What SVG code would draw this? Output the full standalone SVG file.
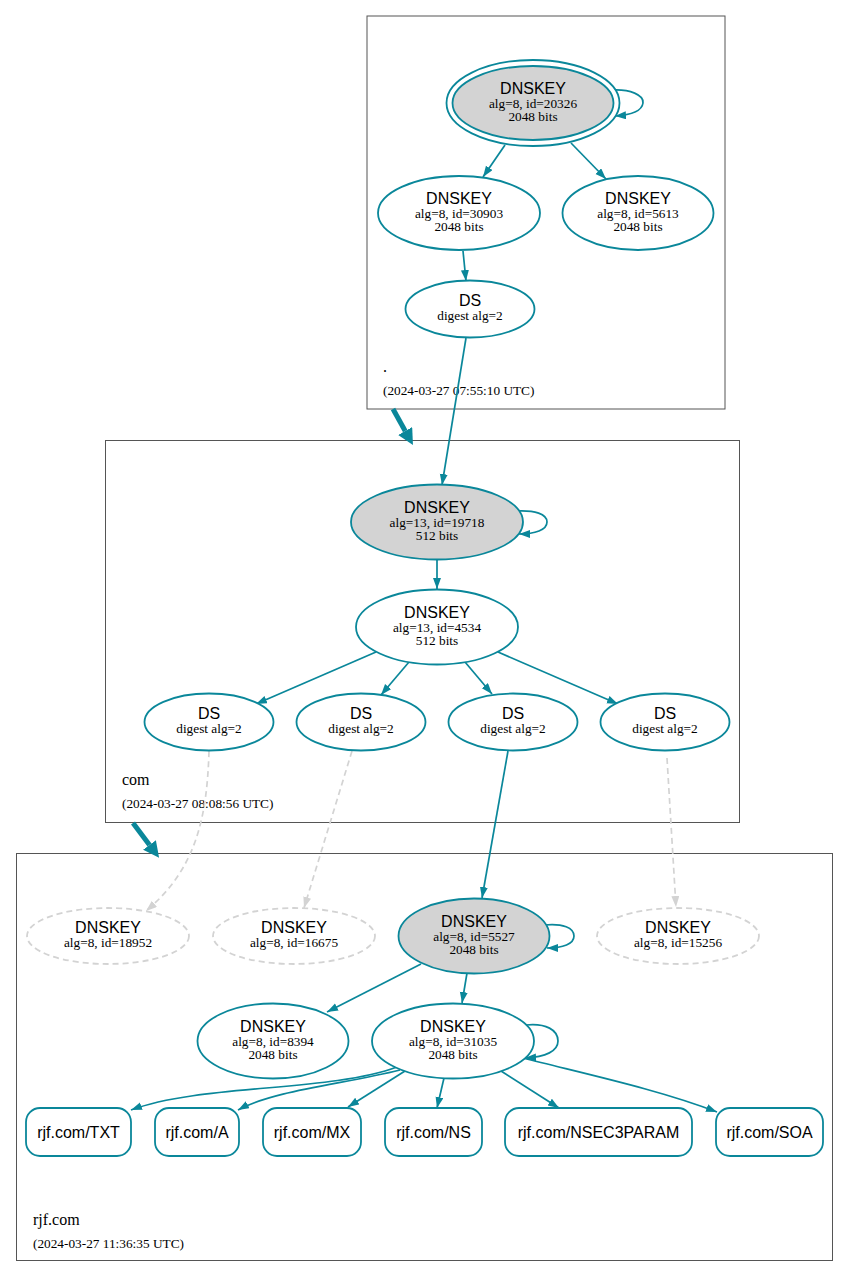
<svg xmlns="http://www.w3.org/2000/svg" width="849" height="1278" viewBox="0 0 849 1278">
<defs>
<style>
.cluster{fill:none;stroke:#555;stroke-width:1}
.key{fill:#fff;stroke:#0a879a;stroke-width:1.8}
.ksk{fill:#d3d3d3;stroke:#0a879a;stroke-width:1.8}
.miss{fill:#fff;stroke:#d3d3d3;stroke-width:1.8;stroke-dasharray:6,4}
.e{fill:none;stroke:#0a879a;stroke-width:1.7;marker-end:url(#ah)}
.ed{fill:none;stroke:#d3d3d3;stroke-width:1.7;stroke-dasharray:6,4;marker-end:url(#ahg)}
.thick{fill:none;stroke:#0a879a;stroke-width:5;marker-end:url(#aht)}
.s{font-family:"Liberation Sans",Arial,sans-serif;font-size:16px;text-anchor:middle;fill:#000}
.r{font-family:"Liberation Serif","Times New Roman",serif;font-size:13.3px;text-anchor:middle;fill:#000}
.cl{font-family:"Liberation Serif","Times New Roman",serif;font-size:16px;fill:#000}
.ct{font-family:"Liberation Serif","Times New Roman",serif;font-size:13.3px;fill:#000}
</style>
<marker id="ah" markerUnits="userSpaceOnUse" markerWidth="12" markerHeight="9" refX="11" refY="4" orient="auto"><path d="M0,0 L11,4 L0,8 z" fill="#0a879a"/></marker>
<marker id="ahg" markerUnits="userSpaceOnUse" markerWidth="12" markerHeight="9" refX="11" refY="4" orient="auto"><path d="M0,0 L11,4 L0,8 z" fill="#d3d3d3"/></marker>
<marker id="aht" markerUnits="userSpaceOnUse" markerWidth="18" markerHeight="18" refX="0" refY="8" orient="auto"><path d="M0,0 L16,8 L0,16 z" fill="#0a879a"/></marker>
</defs>
<rect width="849" height="1278" fill="#fff"/>

<g id="cluster-root">
<rect class="cluster" x="367" y="16" width="358" height="393"/>
<text class="cl" x="383" y="372">.</text>
<text class="ct" x="383" y="395">(2024-03-27 07:55:10 UTC)</text>
</g>
<g id="cluster-com">
<rect class="cluster" x="105.5" y="440.5" width="634" height="382"/>
<text class="cl" x="122" y="785">com</text>
<text class="ct" x="122" y="808">(2024-03-27 08:08:56 UTC)</text>
</g>
<g id="cluster-rjf">
<rect class="cluster" x="16.5" y="853.5" width="816" height="407"/>
<text class="cl" x="33" y="1225">rjf.com</text>
<text class="ct" x="33" y="1248">(2024-03-27 11:36:35 UTC)</text>
</g>

<g id="connectors">
<path class="thick" d="M393,409 L405.2,431"/>
<path class="thick" d="M133,823 L149.5,845"/>
<path class="e" d="M612,90 C630,89 644,95 643,103 C642,111 630,115 615,116"/>
<path class="e" d="M505,145 L483,177"/>
<path class="e" d="M571,143 L606,179"/>
<path class="e" d="M463,251 L466,281"/>
<path class="e" d="M466,338 L442,485"/>
<path class="e" d="M516,511 C535,510 547,514 547,522 C547,530 535,534 519,534"/>
<path class="e" d="M437,560 L437,589"/>
<path class="e" d="M376,652 L256,704"/>
<path class="e" d="M409,662 L381,695"/>
<path class="e" d="M465,662 L492,694"/>
<path class="e" d="M498,652 L618,704"/>
<path class="ed" d="M209,751 C207,820 195,870 146,911"/>
<path class="ed" d="M352,751 L304,908"/>
<path class="e" d="M508,751 L482,898"/>
<path class="ed" d="M667,758 L676,907"/>
<path class="e" d="M544,925 C563,923 574,928 574,936 C574,944 563,948 547,948"/>
<path class="e" d="M421,964 L327,1012"/>
<path class="e" d="M467,973 L462,1003"/>
<path class="e" d="M526,1025 C546,1023 558,1030 558,1041 C558,1051 546,1057 525,1058"/>
<path class="e" d="M397,1067 C330,1092 200,1084 131,1110"/>
<path class="e" d="M400,1070 C345,1084 275,1090 238,1110"/>
<path class="e" d="M405,1071 L348,1107"/>
<path class="e" d="M444,1078 L437,1108"/>
<path class="e" d="M501,1071 L559,1108"/>
<path class="e" d="M523,1058 C590,1075 660,1090 717,1112"/>
</g>

<g id="dnskey-20326">
<ellipse class="key" cx="533" cy="103" rx="86.5" ry="43"/>
<ellipse class="ksk" cx="533" cy="103" rx="80.5" ry="37"/>
<text class="s" x="533" y="94">DNSKEY</text>
<text class="r" x="533" y="108">alg=8, id=20326</text>
<text class="r" x="533" y="121">2048 bits</text>
</g>
<g id="dnskey-30903">
<ellipse class="key" cx="459" cy="213" rx="81" ry="37"/>
<text class="s" x="459" y="204">DNSKEY</text>
<text class="r" x="459" y="218">alg=8, id=30903</text>
<text class="r" x="459" y="231">2048 bits</text>
</g>
<g id="dnskey-5613">
<ellipse class="key" cx="638" cy="213" rx="75.5" ry="37"/>
<text class="s" x="638" y="204">DNSKEY</text>
<text class="r" x="638" y="218">alg=8, id=5613</text>
<text class="r" x="638" y="231">2048 bits</text>
</g>
<g id="ds-root">
<ellipse class="key" cx="470" cy="309" rx="64.5" ry="28.5"/>
<text class="s" x="470" y="306">DS</text>
<text class="r" x="470" y="320">digest alg=2</text>
</g>

<g id="dnskey-19718">
<ellipse class="ksk" cx="437" cy="522" rx="86" ry="37.5"/>
<text class="s" x="437" y="513">DNSKEY</text>
<text class="r" x="437" y="527">alg=13, id=19718</text>
<text class="r" x="437" y="540">512 bits</text>
</g>
<g id="dnskey-4534">
<ellipse class="key" cx="437" cy="627" rx="81" ry="37.5"/>
<text class="s" x="437" y="618">DNSKEY</text>
<text class="r" x="437" y="632">alg=13, id=4534</text>
<text class="r" x="437" y="645">512 bits</text>
</g>
<g id="ds-com-1">
<ellipse class="key" cx="209" cy="722" rx="64.5" ry="28.5"/>
<text class="s" x="209" y="719">DS</text>
<text class="r" x="209" y="733">digest alg=2</text>
</g>
<g id="ds-com-2">
<ellipse class="key" cx="361" cy="722" rx="64.5" ry="28.5"/>
<text class="s" x="361" y="719">DS</text>
<text class="r" x="361" y="733">digest alg=2</text>
</g>
<g id="ds-com-3">
<ellipse class="key" cx="513" cy="722" rx="64.5" ry="28.5"/>
<text class="s" x="513" y="719">DS</text>
<text class="r" x="513" y="733">digest alg=2</text>
</g>
<g id="ds-com-4">
<ellipse class="key" cx="665" cy="722" rx="64.5" ry="28.5"/>
<text class="s" x="665" y="719">DS</text>
<text class="r" x="665" y="733">digest alg=2</text>
</g>

<g id="dnskey-18952">
<ellipse class="miss" cx="108" cy="936" rx="81" ry="28"/>
<text class="s" x="108" y="933">DNSKEY</text>
<text class="r" x="108" y="947">alg=8, id=18952</text>
</g>
<g id="dnskey-16675">
<ellipse class="miss" cx="294" cy="936" rx="81" ry="28"/>
<text class="s" x="294" y="933">DNSKEY</text>
<text class="r" x="294" y="947">alg=8, id=16675</text>
</g>
<g id="dnskey-5527">
<ellipse class="ksk" cx="474" cy="936" rx="75.5" ry="37.5"/>
<text class="s" x="474" y="927">DNSKEY</text>
<text class="r" x="474" y="941">alg=8, id=5527</text>
<text class="r" x="474" y="954">2048 bits</text>
</g>
<g id="dnskey-15256">
<ellipse class="miss" cx="678" cy="936" rx="81" ry="28"/>
<text class="s" x="678" y="933">DNSKEY</text>
<text class="r" x="678" y="947">alg=8, id=15256</text>
</g>
<g id="dnskey-8394">
<ellipse class="key" cx="273" cy="1041" rx="75.5" ry="37.5"/>
<text class="s" x="273" y="1032">DNSKEY</text>
<text class="r" x="273" y="1046">alg=8, id=8394</text>
<text class="r" x="273" y="1059">2048 bits</text>
</g>
<g id="dnskey-31035">
<ellipse class="key" cx="453" cy="1041" rx="81" ry="37.5"/>
<text class="s" x="453" y="1032">DNSKEY</text>
<text class="r" x="453" y="1046">alg=8, id=31035</text>
<text class="r" x="453" y="1059">2048 bits</text>
</g>

<g id="rr-txt">
<rect class="key" x="26" y="1108" width="105" height="48" rx="14"/>
<text class="s" x="78.5" y="1138">rjf.com/TXT</text>
</g>
<g id="rr-a">
<rect class="key" x="155" y="1108" width="84" height="48" rx="14"/>
<text class="s" x="197" y="1138">rjf.com/A</text>
</g>
<g id="rr-mx">
<rect class="key" x="263" y="1108" width="98" height="48" rx="14"/>
<text class="s" x="312" y="1138">rjf.com/MX</text>
</g>
<g id="rr-ns">
<rect class="key" x="385" y="1108" width="97" height="48" rx="14"/>
<text class="s" x="433.5" y="1138">rjf.com/NS</text>
</g>
<g id="rr-nsec3param">
<rect class="key" x="505" y="1108" width="187" height="48" rx="14"/>
<text class="s" x="598.5" y="1138">rjf.com/NSEC3PARAM</text>
</g>
<g id="rr-soa">
<rect class="key" x="716" y="1108" width="107" height="48" rx="14"/>
<text class="s" x="769.5" y="1138">rjf.com/SOA</text>
</g>
</svg>
